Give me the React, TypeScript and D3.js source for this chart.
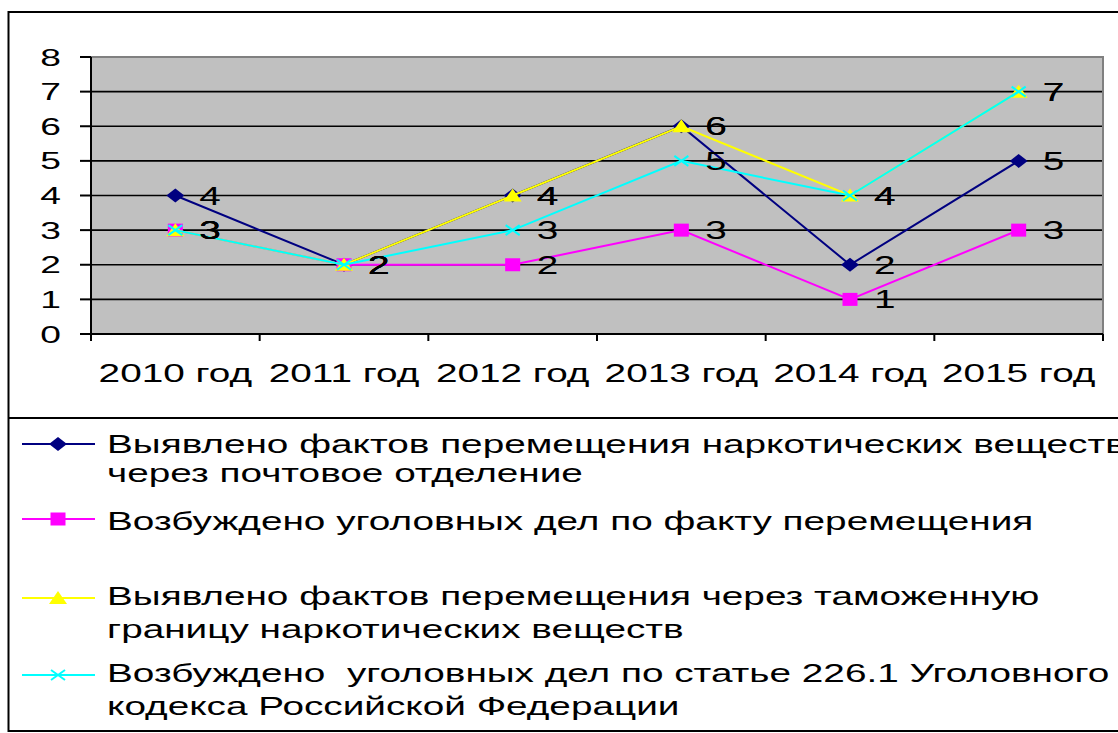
import React from 'react';
import * as d3 from 'd3';

const categories = ['2010 год', '2011 год', '2012 год', '2013 год', '2014 год', '2015 год'];
const postalFacts = [4, 2, 4, 6, 2, 5];
const criminalCases = [3, 2, 2, 3, 1, 3];
const customsFacts = [3, 2, 4, 6, 4, 7];
const article226Cases = [3, 2, 3, 5, 4, 7];
const yTicks = [0, 1, 2, 3, 4, 5, 6, 7, 8];

const legendLines = [
  ['Выявлено фактов перемещения наркотических веществ', 'через почтовое отделение'],
  ['Возбуждено уголовных дел по факту перемещения'],
  ['Выявлено фактов перемещения через таможенную', 'границу наркотических веществ'],
  ['Возбуждено  уголовных дел по статье 226.1 Уголовного', 'кодекса Российской Федерации'],
];

const series = [
  { values: postalFacts, color: '#000080', marker: 'diamond' },
  { values: criminalCases, color: '#FF00FF', marker: 'square' },
  { values: customsFacts, color: '#FFFF00', marker: 'triangle' },
  { values: article226Cases, color: '#00FFFF', marker: 'x' },
];

const W = 1118;
const H = 733;
const M = { left: 91, right: 1103, top: 57, bottom: 334 };
const SX = 1.55;
const FONT = 'Arial, "Liberation Sans", sans-serif';

function Marker({ type, cx, cy, color }: { type: string; cx: number; cy: number; color: string }) {
  if (type === 'diamond') {
    return <path d="M0,-7L9,0L0,7L-9,0Z" transform={`translate(${cx},${cy})`} fill={color} />;
  }
  if (type === 'square') {
    return <rect x={cx - 7.5} y={cy - 6.5} width={15} height={13} fill={color} />;
  }
  if (type === 'triangle') {
    return <path d="M0,-7L9,6L-9,6Z" transform={`translate(${cx},${cy})`} fill={color} />;
  }
  return (
    <g transform={`translate(${cx},${cy})`} stroke={color} strokeWidth={2}>
      <line x1={-7} y1={-5} x2={7} y2={5} />
      <line x1={-7} y1={5} x2={7} y2={-5} />
    </g>
  );
}

function SText({ x, y, children, anchor = 'start', size = 25 }: any) {
  return (
    <text
      transform={`translate(${x},${y}) scale(${SX},1)`}
      textAnchor={anchor}
      fontFamily={FONT}
      fontSize={size}
      fill="#000"
      style={{ whiteSpace: 'pre' }}
    >
      {children}
    </text>
  );
}

export default function App() {
  const x = d3.scaleBand<string>().domain(categories).range([M.left, M.right]);
  const bw = x.bandwidth();
  const cx = (i: number) => (x(categories[i]) as number) + bw / 2;
  const y = d3.scaleLinear().domain([0, 8]).range([M.bottom, M.top]);
  const line = d3
    .line<number>()
    .x((_, i) => cx(i))
    .y((d) => y(d));

  const boundaries = categories.map((c) => x(c) as number).concat([M.right]);
  const legendRowY = [444, 519, 598, 675];
  const legendBaselines = [[453, 482], [530], [605, 638], [682, 715]];

  return (
    <svg
      width={W}
      height={H}
      style={{ position: 'absolute', left: 0, top: 0, background: '#fff' }}
    >
      {/* outer frame */}
      <rect x={8.5} y={12} width={W + 20} height={719} fill="#fff" stroke="#000" strokeWidth={2} />
      <line x1={8} x2={W + 20} y1={418} y2={418} stroke="#000" strokeWidth={2} />

      {/* plot area */}
      <rect
        x={M.left}
        y={M.top}
        width={M.right - M.left}
        height={M.bottom - M.top}
        fill="#C0C0C0"
        stroke="#808080"
        strokeWidth={2}
      />
      {yTicks
        .filter((t) => t > 0 && t < 8)
        .map((t) => (
          <line key={t} x1={M.left} x2={M.right - 1} y1={y(t)} y2={y(t)} stroke="#000" strokeWidth={1.6} />
        ))}

      {/* y axis */}
      <line x1={M.left} x2={M.left} y1={M.top} y2={M.bottom} stroke="#000" strokeWidth={2} />
      {yTicks.map((t) => (
        <g key={t}>
          <line x1={80} x2={M.left} y1={y(t)} y2={y(t)} stroke="#000" strokeWidth={2} />
          <SText x={61} y={y(t) + 8.5} anchor="end" size={24}>
            {String(t)}
          </SText>
        </g>
      ))}

      {/* x axis */}
      <line x1={M.left} x2={M.right} y1={M.bottom} y2={M.bottom} stroke="#000" strokeWidth={2} />
      {boundaries.map((b, i) => (
        <line key={i} x1={b} x2={b} y1={M.bottom} y2={M.bottom + 7} stroke="#000" strokeWidth={2} />
      ))}
      {categories.map((c, i) => (
        <SText key={c} x={cx(i)} y={382} anchor="middle">
          {c}
        </SText>
      ))}

      {/* series */}
      {series.map((s, si) => (
        <g key={si}>
          <path d={line(s.values) || ''} fill="none" stroke={s.color} strokeWidth={2} />
          {s.values.map((v, i) => (
            <Marker key={i} type={s.marker} cx={cx(i)} cy={y(v)} color={s.color} />
          ))}
        </g>
      ))}
      {series.map((s, si) => (
        <g key={'l' + si}>
          {s.values.map((v, i) => (
            <SText key={i} x={cx(i) + 24} y={y(v) + 9}>
              {String(v)}
            </SText>
          ))}
        </g>
      ))}

      {/* legend */}
      {series.map((s, si) => (
        <g key={'lg' + si}>
          <line x1={22} x2={95} y1={legendRowY[si]} y2={legendRowY[si]} stroke={s.color} strokeWidth={2} />
          <Marker type={s.marker} cx={58} cy={legendRowY[si]} color={s.color} />
          {legendLines[si].map((t, li) => (
            <SText key={li} x={107} y={legendBaselines[si][li]}>
              {t}
            </SText>
          ))}
        </g>
      ))}
    </svg>
  );
}
